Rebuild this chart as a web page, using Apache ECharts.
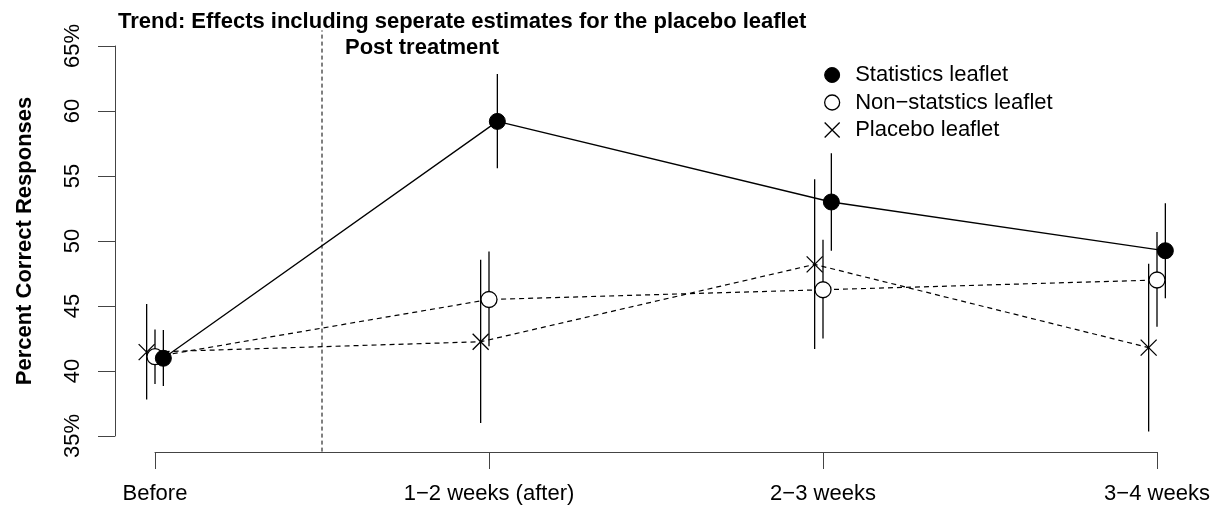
<!DOCTYPE html>
<html>
<head>
<meta charset="utf-8">
<script src="https://cdn.jsdelivr.net/npm/echarts@6/dist/echarts.min.js"></script>
<style>
  html, body { margin: 0; padding: 0; background: #fff; }
  #trendChart { width: 1220px; height: 509px; }
</style>
</head>
<body>
<div id="trendChart"></div>
<script>
// categories on the x axis (positions 1..4)
const categories = ["Before", "1\u22122 weeks (after)", "2\u22123 weeks", "3\u22124 weeks"];
const catPos = [1, 2, 3, 4];

// statistics leaflet
const statMean = [40.98, 59.2, 53.0, 49.25];
const statLo = [38.85, 55.6, 49.25, 45.6];
const statHi = [43.15, 62.85, 56.75, 52.9];

// non-statistics leaflet
const nonMean = [41.1, 45.5, 46.25, 47.0];
const nonLo = [39.0, 41.9, 42.5, 43.4];
const nonHi = [43.2, 49.2, 50.1, 50.7];

// placebo leaflet
const placeboMean = [41.45, 42.25, 48.2, 41.8];
const placeboLo = [37.8, 36.0, 41.7, 35.35];
const placeboHi = [45.15, 48.55, 54.75, 48.25];

// little horizontal shift so the groups don't sit on top of each other
const dodge = { stat: 0.025, non: 0, placebo: -0.025 };

// y ticks
const yTicks = [35, 40, 45, 50, 55, 60, 65];
const postTreatmentX = 1.5;

const FONT = "'Liberation Sans', Arial, Helvetica, sans-serif";
const crossIcon = "path://M0,0L10,10M10,0L0,10";

function pts(mean, off) {
  return catPos.map((p, i) => [p + off, mean[i]]);
}
function bars(lo, hi, off) {
  return catPos.map((p, i) => [p + off, lo[i], hi[i]]);
}

const errData = []
  .concat(bars(placeboLo, placeboHi, dodge.placebo))
  .concat(bars(nonLo, nonHi, dodge.non))
  .concat(bars(statLo, statHi, dodge.stat));

const chart = echarts.init(document.getElementById("trendChart"));
chart.setOption({
  animation: false,
  backgroundColor: "#fff",
  textStyle: { fontFamily: FONT },
  title: [
    {
      text: "Trend: Effects including seperate estimates for the placebo leaflet",
      left: 118,
      top: 11,
      padding: 0,
      textStyle: { fontFamily: FONT, fontSize: 22, fontWeight: "bold", color: "#000", lineHeight: 22 }
    },
    {
      text: "Post treatment",
      left: 345,
      top: 37,
      padding: 0,
      textStyle: { fontFamily: FONT, fontSize: 22, fontWeight: "bold", color: "#000", lineHeight: 22 }
    }
  ],
  legend: {
    orient: "vertical",
    left: 824,
    top: 64,
    padding: 0,
    itemWidth: 36,
    itemHeight: 15,
    itemGap: 5.5,
    selectedMode: false,
    textStyle: { fontFamily: FONT, fontSize: 22, color: "#000", lineHeight: 22 },
    data: [
      { name: "Statistics leaflet", icon: "circle", itemStyle: { color: "#000", borderColor: "#000", borderWidth: 1 } },
      { name: "Non\u2212statstics leaflet", icon: "circle", itemStyle: { color: "#fff", borderColor: "#000", borderWidth: 1.3 } },
      { name: "Placebo leaflet", icon: crossIcon, itemStyle: { color: "rgba(0,0,0,0)", borderColor: "#000", borderWidth: 1.3 } }
    ]
  },
  grid: { left: 155, right: 63, top: 46, bottom: 73, containLabel: false },
  xAxis: {
    type: "value",
    min: 1,
    max: 4,
    interval: 1,
    offset: 16,
    splitLine: { show: false },
    axisLine: { show: true, lineStyle: { color: "#444", width: 1 } },
    axisTick: { show: true, length: 17, lineStyle: { color: "#444", width: 1 } },
    axisLabel: {
      margin: 31,
      fontSize: 22,
      color: "#000",
      fontFamily: FONT,
      formatter: function (v) {
        return categories[catPos.indexOf(v)] || "";
      }
    }
  },
  yAxis: {
    type: "value",
    min: yTicks[0],
    max: yTicks[yTicks.length - 1],
    interval: 5,
    offset: 40,
    name: "Percent Correct Responses",
    nameLocation: "middle",
    nameGap: 79,
    nameTextStyle: { fontFamily: FONT, fontSize: 22, fontWeight: "bold", color: "#000" },
    splitLine: { show: false },
    axisLine: { show: true, lineStyle: { color: "#444", width: 1 } },
    axisTick: { show: true, length: 17, lineStyle: { color: "#444", width: 1 } },
    axisLabel: {
      rotate: 90,
      margin: 31,
      fontSize: 22,
      color: "#000",
      fontFamily: FONT,
      formatter: function (v) {
        return v === yTicks[0] || v === yTicks[yTicks.length - 1] ? v + "%" : String(v);
      }
    }
  },
  series: [
    // vertical dashed line, spans the whole plot region
    {
      type: "line",
      data: [[postTreatmentX, 33.8], [postTreatmentX, 66.2]],
      symbol: "none",
      clip: false,
      silent: true,
      lineStyle: { color: "#000", width: 1, type: [4, 3] },
      z: 1
    },
    // error bars
    {
      type: "custom",
      clip: false,
      silent: true,
      encode: { x: 0, y: [1, 2] },
      data: errData,
      renderItem: function (params, api) {
        const a = api.coord([api.value(0), api.value(1)]);
        const b = api.coord([api.value(0), api.value(2)]);
        return {
          type: "line",
          shape: { x1: a[0], y1: a[1], x2: b[0], y2: b[1] },
          style: { stroke: "#000", lineWidth: 1.3 }
        };
      },
      z: 2
    },
    {
      name: "Placebo leaflet",
      type: "line",
      data: pts(placeboMean, dodge.placebo),
      clip: false,
      symbol: crossIcon,
      symbolSize: 16,
      itemStyle: { color: "rgba(0,0,0,0)", borderColor: "#000", borderWidth: 1.3 },
      lineStyle: { color: "#000", width: 1.2, type: [5, 4] },
      z: 3
    },
    {
      name: "Non\u2212statstics leaflet",
      type: "line",
      data: pts(nonMean, dodge.non),
      clip: false,
      symbol: "circle",
      symbolSize: 16,
      itemStyle: { color: "#fff", borderColor: "#000", borderWidth: 1.3 },
      lineStyle: { color: "#000", width: 1.2, type: [5, 4] },
      z: 4
    },
    {
      name: "Statistics leaflet",
      type: "line",
      data: pts(statMean, dodge.stat),
      clip: false,
      symbol: "circle",
      symbolSize: 16,
      itemStyle: { color: "#000", borderColor: "#000", borderWidth: 1 },
      lineStyle: { color: "#000", width: 1.3, type: "solid" },
      z: 5
    }
  ]
});
</script>
</body>
</html>
